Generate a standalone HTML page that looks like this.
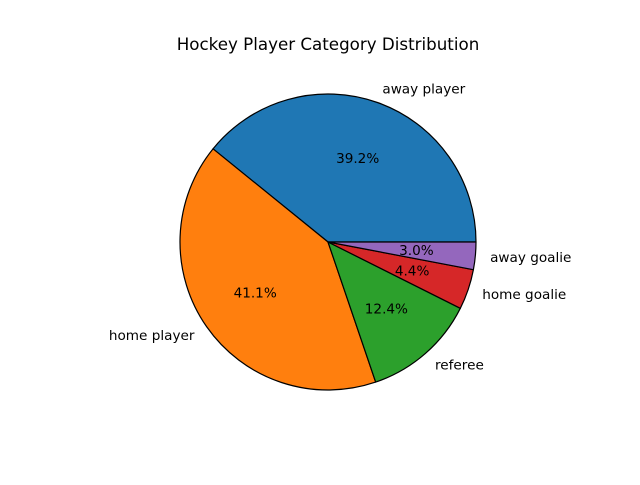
<!DOCTYPE html>
<html><head><meta charset="utf-8"><style>
body{margin:0;background:#fff}
svg text{font-family:"DejaVu Sans","Liberation Sans",sans-serif;fill:#000}
</style></head><body>
<svg id="chart" width="640" height="480" viewBox="0 0 640 480" xmlns="http://www.w3.org/2000/svg">
<rect width="640" height="480" fill="#fff"/>
<text x="328" y="50" font-size="16.7" text-anchor="middle">Hockey Player Category Distribution</text>
<g id="slices"></g><g id="labels"></g>
</svg>
<script>
const categories = ["away player","home player","referee","home goalie","away goalie"];
const values = [39.2, 41.1, 12.4, 4.4, 3.0];
const colors = ["#1f77b4","#ff7f0e","#2ca02c","#d62728","#9467bd"];
const cx = 328, cy = 242, R = 148;
const ns = "http://www.w3.org/2000/svg";
const total = values.reduce((a,b)=>a+b,0);
const sg = document.getElementById('slices'), lg = document.getElementById('labels');
function pt(a, r){ return [cx + r*Math.cos(a), cy - r*Math.sin(a)]; }
let start = 0;
values.forEach((v,i)=>{
  const sweep = v/total*2*Math.PI, end = start + sweep;
  const [x1,y1] = pt(start,R), [x2,y2] = pt(end,R);
  const p = document.createElementNS(ns,'path');
  p.setAttribute('d',`M${cx},${cy} L${x1},${y1} A${R},${R} 0 ${sweep>Math.PI?1:0} 0 ${x2},${y2} Z`);
  p.setAttribute('fill',colors[i]); p.setAttribute('stroke','#000'); p.setAttribute('stroke-width','1.2');
  p.setAttribute('stroke-linejoin','round');
  
  
  sg.appendChild(p);
  const mid = start + sweep/2;
  const [lx,ly] = pt(mid, R*1.1);
  const t = document.createElementNS(ns,'text');
  t.setAttribute('x',lx); t.setAttribute('y',ly+4.8); t.setAttribute('font-size','13.6');
  t.setAttribute('text-anchor', Math.cos(mid)>=0 ? 'start' : 'end');
  t.textContent = categories[i];
  
  
  lg.appendChild(t);
  const [px,py] = pt(mid, R*0.6);
  const q = document.createElementNS(ns,'text');
  q.setAttribute('x',px); q.setAttribute('y',py+4.8); q.setAttribute('font-size','13.6');
  q.setAttribute('text-anchor','middle');
  q.textContent = v.toFixed(1) + '%';
  
  
  lg.appendChild(q);
  start = end;
});
</script>
</body></html>
